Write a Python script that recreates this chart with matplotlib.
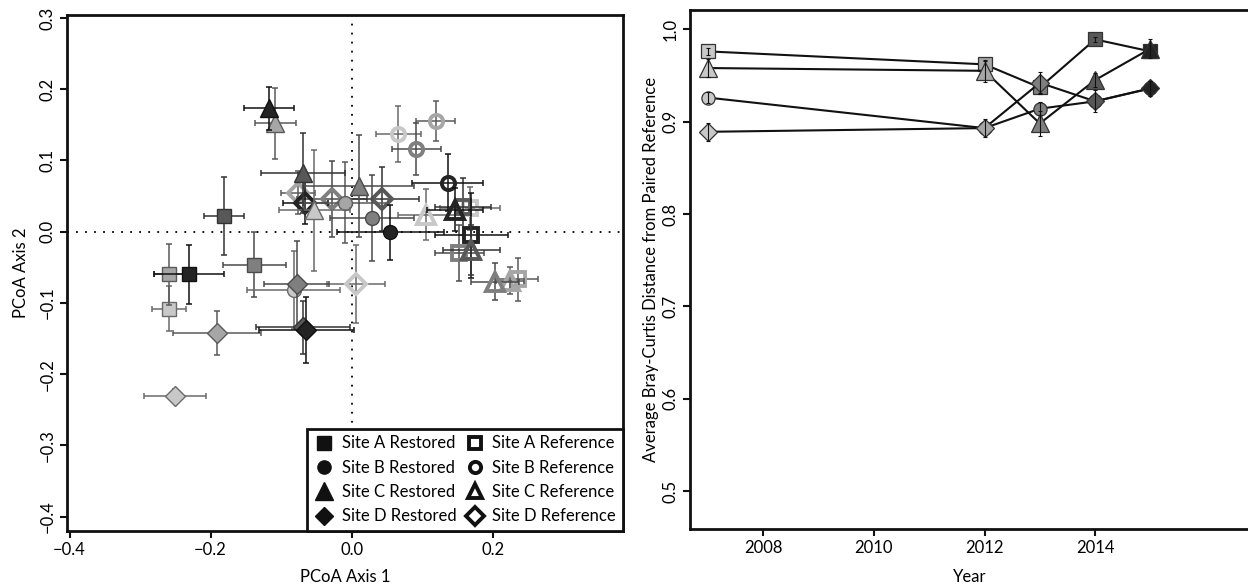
import numpy as np
import matplotlib
matplotlib.use("Agg")
import matplotlib.pyplot as plt
from matplotlib.lines import Line2D

plt.rcParams['font.family'] = ['Lato', 'DejaVu Sans']

# ---------------- data ----------------
# shade index: 0=2007 (very light), 1=2012, 2=2013, 3=2014, 4=2015 (black)
shades = ['#c8c8c8', '#a6a6a6', '#7f7f7f', '#585858', '#232323']
bar_cols = ['#6a6a6a', '#5a5a5a', '#4a4a4a', '#333333', '#111111']

# Left panel: PCoA centroids (x, y) with standard errors
A_rest_shade = [0, 1, 2, 3, 4]
A_rest_x = [-0.259, -0.259, -0.138, -0.181, -0.231]
A_rest_y = [-0.108, -0.060, -0.046, 0.022, -0.060]
A_rest_xe = [0.024, 0.021, 0.045, 0.028, 0.050]
A_rest_ye = [0.032, 0.043, 0.045, 0.055, 0.041]

B_rest_shade = [0, 1, 2, 4]
B_rest_x = [-0.082, -0.009, 0.029, 0.055]
B_rest_y = [-0.082, 0.041, 0.019, -0.001]
B_rest_xe = [0.066, 0.060, 0.060, 0.076]
B_rest_ye = [0.055, 0.057, 0.060, 0.038]

C_rest_shade = [0, 1, 2, 3, 4]
C_rest_x = [-0.053, -0.108, 0.011, -0.069, -0.117]
C_rest_y = [0.030, 0.152, 0.064, 0.082, 0.173]
C_rest_xe = [0.050, 0.029, 0.078, 0.060, 0.035]
C_rest_ye = [0.085, 0.050, 0.072, 0.056, 0.030]

D_rest_shade = [0, 1, 2, 3, 4]
D_rest_x = [-0.251, -0.191, -0.078, -0.069, -0.064]
D_rest_y = [-0.231, -0.142, -0.073, -0.134, -0.138]
D_rest_xe = [0.044, 0.062, 0.046, 0.066, 0.068]
D_rest_ye = [0.010, 0.031, 0.060, 0.037, 0.046]

A_ref_shade = [0, 1, 2, 3, 4]
A_ref_x = [0.168, 0.236, 0.153, 0.158, 0.170]
A_ref_y = [0.033, -0.067, -0.030, 0.035, -0.005]
A_ref_xe = [0.043, 0.029, 0.035, 0.040, 0.052]
A_ref_ye = [0.030, 0.030, 0.039, 0.040, 0.060]

B_ref_shade = [0, 1, 2, 4]
B_ref_x = [0.066, 0.119, 0.092, 0.136]
B_ref_y = [0.137, 0.155, 0.116, 0.069]
B_ref_xe = [0.032, 0.027, 0.035, 0.050]
B_ref_ye = [0.039, 0.028, 0.036, 0.040]

C_ref_shade = [0, 1, 2, 3, 4]
C_ref_x = [0.106, 0.225, 0.203, 0.170, 0.147]
C_ref_y = [0.024, -0.069, -0.070, -0.026, 0.031]
C_ref_xe = [0.040, 0.020, 0.034, 0.040, 0.040]
C_ref_ye = [0.036, 0.019, 0.026, 0.035, 0.030]

D_ref_shade = [0, 1, 2, 3, 4]
D_ref_x = [0.006, -0.076, -0.028, 0.043, -0.066]
D_ref_y = [-0.073, 0.055, 0.046, 0.046, 0.041]
D_ref_xe = [0.041, 0.024, 0.050, 0.052, 0.032]
D_ref_ye = [0.055, 0.030, 0.053, 0.045, 0.030]

# Right panel: average Bray-Curtis distance by year
years = [2007, 2012, 2013, 2014, 2015]
year_shade = [0, 1, 2, 3, 4]
bc_A = [0.976, 0.962, 0.937, 0.989, 0.976]
bc_B = [0.926, 0.893, 0.914, 0.922, 0.936]
bc_C = [0.958, 0.955, 0.898, 0.945, 0.979]
bc_D = [0.889, 0.893, 0.942, 0.922, 0.936]
bc_A_se = [0.004, 0.004, 0.006, 0.003, 0.005]
bc_B_se = [0.006, 0.005, 0.007, 0.006, 0.005]
bc_C_se = [0.010, 0.012, 0.014, 0.008, 0.010]
bc_D_se = [0.010, 0.010, 0.012, 0.012, 0.008]

legend_labels = ['Site A Restored', 'Site B Restored', 'Site C Restored', 'Site D Restored',
                 'Site A Reference', 'Site B Reference', 'Site C Reference', 'Site D Reference']

# ---------------- figure ----------------
W, H = 1248, 584
fig = plt.figure(figsize=(W / 100, H / 100), dpi=100)
ax1 = fig.add_axes([67 / W, 1 - 531 / H, (622.7 - 67) / W, (531 - 15) / H])
ax2 = fig.add_axes([690 / W, 1 - 529 / H, (1250 - 690) / W, (529 - 10) / H])

FS = 12

# marker specs: (marker, size_filled, size_open)
mk = {'A': ('s', 10.5, 9.8), 'B': ('o', 10.0, 9.5), 'C': ('^', 13.5, 12.5), 'D': ('D', 10.0, 10.5)}

z = 3
def draw_group(ax, site, xs, ys, xes, yes, shade_idx, filled):
    global z
    m, sf, so = mk[site]
    for x, y, xe, ye, s in zip(xs, ys, xes, yes, shade_idx):
        ax.errorbar(x, y, xerr=xe, yerr=ye, fmt='none', ecolor=bar_cols[s],
                    elinewidth=1.1, capsize=2, capthick=1.1, zorder=z)
        if filled:
            ax.plot(x, y, marker=m, ms=sf, mfc=shades[s], mec=bar_cols[s], mew=1.0,
                    ls='none', zorder=z + 0.5)
        else:
            ax.plot(x, y, marker=m, ms=so, mfc='none', mec=shades[s], mew=2.8,
                    ls='none', zorder=z + 0.5)
        z += 1

draw_group(ax1, 'A', A_ref_x, A_ref_y, A_ref_xe, A_ref_ye, A_ref_shade, False)
draw_group(ax1, 'B', B_ref_x, B_ref_y, B_ref_xe, B_ref_ye, B_ref_shade, False)
draw_group(ax1, 'C', C_ref_x, C_ref_y, C_ref_xe, C_ref_ye, C_ref_shade, False)
draw_group(ax1, 'D', D_ref_x, D_ref_y, D_ref_xe, D_ref_ye, D_ref_shade, False)
draw_group(ax1, 'A', A_rest_x, A_rest_y, A_rest_xe, A_rest_ye, A_rest_shade, True)
draw_group(ax1, 'B', B_rest_x, B_rest_y, B_rest_xe, B_rest_ye, B_rest_shade, True)
draw_group(ax1, 'C', C_rest_x, C_rest_y, C_rest_xe, C_rest_ye, C_rest_shade, True)
draw_group(ax1, 'D', D_rest_x, D_rest_y, D_rest_xe, D_rest_ye, D_rest_shade, True)

ax1.axhline(0, color='k', lw=1.3, ls=(0, (1, 4)), zorder=1)
ax1.axvline(0, color='k', lw=1.3, ls=(0, (1, 4)), zorder=1)

ax1.set_xlim(-0.4037, 0.3845)
ax1.set_ylim(-0.4200, 0.3042)
ax1.set_xticks([-0.4, -0.2, 0.0, 0.2])
ax1.set_yticks([-0.4, -0.3, -0.2, -0.1, 0.0, 0.1, 0.2, 0.3])
ax1.set_xticklabels(['\u22120.4', '\u22120.2', '0.0', '0.2'])
ax1.set_yticklabels(['\u22120.4', '\u22120.3', '\u22120.2', '\u22120.1', '0.0', '0.1', '0.2', '0.3'],
                    rotation=90, va='center')
ax1.set_xlabel('PCoA Axis 1', fontsize=FS, labelpad=8)
ax1.set_ylabel('PCoA Axis 2', fontsize=FS, labelpad=8)

# legend
handles = []
for s in ['A', 'B', 'C', 'D']:
    m, sf, so = mk[s]
    handles.append(Line2D([], [], marker=m, ls='none', ms=sf * 0.95 if s != 'D' else 9.5,
                          mfc='#111111', mec='#111111', mew=1))
for s in ['A', 'B', 'C', 'D']:
    m, sf, so = mk[s]
    handles.append(Line2D([], [], marker=m, ls='none', ms=so * 0.85, mfc='white',
                          mec='#111111', mew=2.8))
leg = ax1.legend(handles, legend_labels, ncol=2, loc='lower right', borderaxespad=0,
                 fontsize=FS, handlelength=1.3, handletextpad=0.4, columnspacing=0.45,
                 labelspacing=0.5, borderpad=0.4, fancybox=False, framealpha=1,
                 edgecolor='#111111')
leg.get_frame().set_linewidth(2.0)
leg.set_zorder(100)

# right panel
sites = [('A', bc_A, bc_A_se), ('B', bc_B, bc_B_se), ('C', bc_C, bc_C_se), ('D', bc_D, bc_D_se)]
zz = 3
rmk = {'A': ('s', 9.5), 'B': ('o', 9.5), 'C': ('^', 13), 'D': ('D', 9.5)}
for s, vals, ses in sites:
    ax2.plot(years, vals, '-', color='#111111', lw=1.5, zorder=zz)
    m, ms = rmk[s]
    for yr, v, e, sh in zip(years, vals, ses, year_shade):
        ax2.plot(yr, v, marker=m, ms=ms, mfc=shades[sh], mec='#333333', mew=0.9,
                 ls='none', zorder=zz + 0.5)
        ax2.errorbar(yr, v, yerr=e, fmt='none', ecolor='#111111', elinewidth=0.8,
                     capsize=1.5, capthick=0.8, zorder=zz + 0.6)
    zz += 1

ax2.set_xlim(2006.675, 2016.80)
ax2.set_ylim(0.4592, 1.0208)
ax2.set_xticks([2008, 2010, 2012, 2014])
ax2.set_yticks([0.5, 0.6, 0.7, 0.8, 0.9, 1.0])
ax2.set_yticklabels(['0.5', '0.6', '0.7', '0.8', '0.9', '1.0'], rotation=90, va='center')
ax2.set_xlabel('Year', fontsize=FS, labelpad=9)
ax2.set_ylabel('Average Bray-Curtis Distance from Paired Reference', fontsize=FS, labelpad=3)

for ax in (ax1, ax2):
    for sp in ax.spines.values():
        sp.set_linewidth(2.0)
        sp.set_color('#111111')
    ax.tick_params(length=5, width=1.5, labelsize=FS, pad=3, color='#111111')

fig.savefig('out.png', dpi=100)
